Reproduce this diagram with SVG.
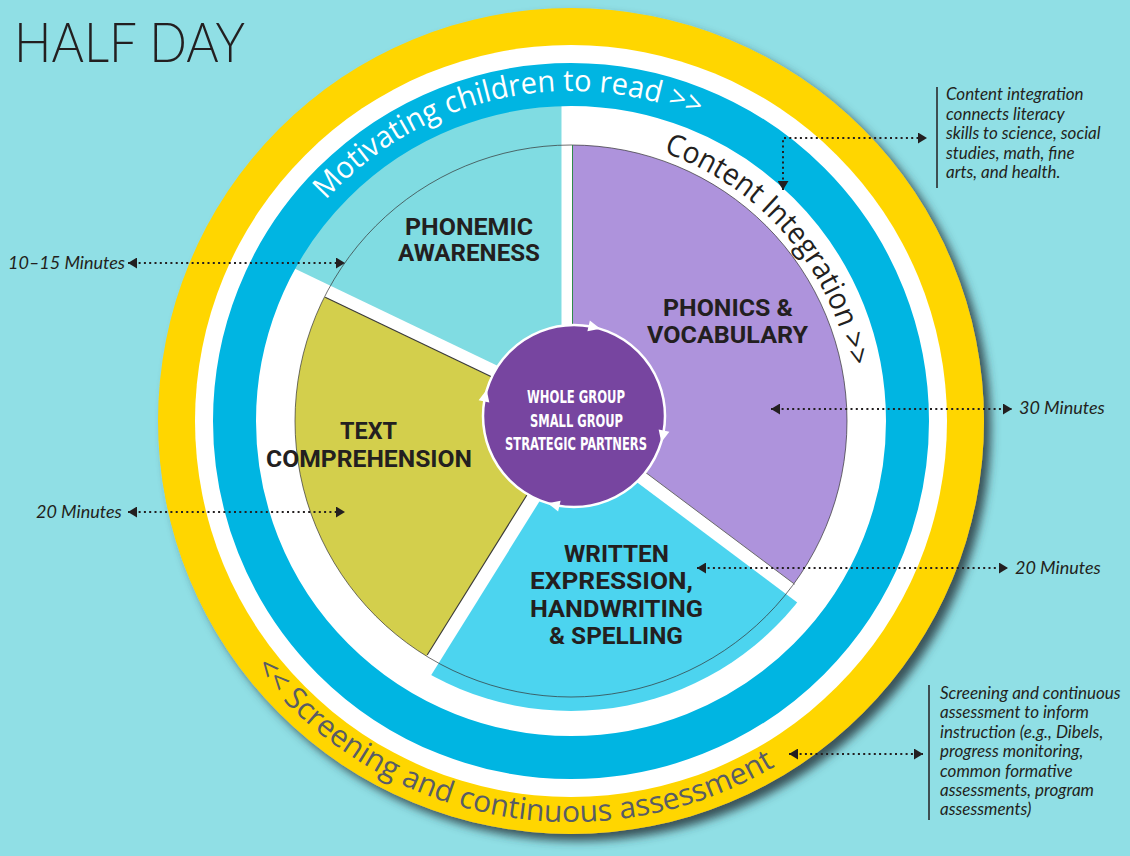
<svg xmlns="http://www.w3.org/2000/svg" width="1130" height="856" viewBox="0 0 1130 856">
<style>
.seg{font-family:Roboto,"Liberation Sans",sans-serif;font-weight:700;font-size:23px;fill:#231f20}
.ctr{font-family:"Liberation Sans Narrow","DejaVu Sans Condensed","Liberation Sans",sans-serif;font-weight:700;font-size:18.5px;fill:#ffffff}
.ann{font-family:Lato,"Liberation Sans",sans-serif;font-style:italic;font-size:17px;fill:#231f20}
.min{font-family:Lato,"Liberation Sans",sans-serif;font-style:italic;font-size:18px;fill:#231f20}
.ring{font-family:"Open Sans","Noto Sans",sans-serif;font-size:30px}
.dot{fill:none;stroke:#231f20;stroke-width:2;stroke-dasharray:2 3.3}
.strip{stroke:#ffffff;fill:none}
.edge{stroke:#3a3a3a;stroke-width:1.1;fill:none}
</style>
<defs>
<filter id="shadow" x="-10%" y="-10%" width="125%" height="125%">
<feDropShadow dx="7" dy="7" stdDeviation="5" flood-color="#2a3a40" flood-opacity="0.85"/>
</filter>
<marker id="ah" viewBox="0 0 9 11" refX="9" refY="5.5" markerWidth="9" markerHeight="11" markerUnits="userSpaceOnUse" orient="auto-start-reverse">
<path d="M0,0 L9,5.5 L0,11 Z" fill="#231f20"/>
</marker>
<clipPath id="cpPurple"><polygon points="567,416 567,-84 1130,-84 1130,738 989.1,738.2 589.1,438.2"/></clipPath>
<clipPath id="cpCyan"><polygon points="589.1,438.2 989.1,738.2 989,900 298,900 298.25,875.25 562.75,450.75"/></clipPath>
<clipPath id="cpOlive"><polygon points="562.75,450.75 298.25,875.25 0,875 0,188 111.4,187.8 562.4,403.8"/></clipPath>
<clipPath id="cpPhon"><polygon points="562.4,403.8 111.4,187.8 111,-84 567,-84 567,416"/></clipPath>
<path id="tri" d="M665,422 L659.5,410 L670.5,410 Z" fill="#ffffff"/>
<path id="pMot" d="M325.8,200.2 A330,330 0 0 1 715.7,124.4"/>
<path id="pCon" d="M663.5,152.5 A284,284 0 0 1 853.9,396.2"/>
<path id="pScr" d="M255,667.9 A401,401 0 0 0 801,749.5"/>
</defs>

<rect x="0" y="0" width="1130" height="856" fill="#90dfe5"/>

<g id="title">
<text x="14" y="62" font-family="Lato,'Liberation Sans',sans-serif" font-weight="300" font-size="56" fill="#231f20" textLength="231" lengthAdjust="spacingAndGlyphs">HALF DAY</text>
</g>

<g id="rings">
<circle cx="571" cy="421" r="413" fill="#ffd600" filter="url(#shadow)"/>
<circle cx="571" cy="421" r="376" fill="#ffffff"/>
</g>

<g id="phonemic-awareness">
<circle cx="571" cy="421" r="322" fill="#80dce2" clip-path="url(#cpPhon)"/>
</g>
<g id="phonics-vocabulary">
<circle cx="571" cy="421" r="276" fill="#ae93dc" clip-path="url(#cpPurple)"/>
</g>
<g id="written-expression">
<circle cx="571" cy="421" r="290" fill="#4cd4ef" clip-path="url(#cpCyan)"/>
</g>
<g id="text-comprehension">
<circle cx="571" cy="421" r="276" fill="#d3cf4c" clip-path="url(#cpOlive)"/>
</g>

<g id="gaps">
<line class="strip" x1="567" y1="420" x2="567" y2="90" stroke-width="11"/>
<line class="strip" x1="562.4" y1="403.8" x2="255.7" y2="256.9" stroke-width="12.6"/>
<line class="strip" x1="562.75" y1="450.75" x2="382.9" y2="739.4" stroke-width="14"/>
<line class="strip" x1="589.1" y1="438.2" x2="861.1" y2="642.2" stroke-width="13"/>
</g>

<g id="blue-ring">
<circle cx="571" cy="421" r="336.5" fill="none" stroke="#00b5e2" stroke-width="43"/>
</g>

<g id="outlines">
<circle cx="571" cy="421" r="276" fill="none" stroke="#333333" stroke-width="1" opacity="0.7"/>
<line class="edge" x1="559.7" y1="409.5" x2="325.2" y2="297.2"/>
<line class="edge" x1="556.8" y1="447" x2="427.2" y2="655"/>
<line x1="593" y1="433" x2="794.6" y2="584.2" stroke="#6a6a6a" stroke-width="1"/>
<line x1="572.5" y1="145" x2="572.5" y2="340" stroke="#2f8a4a" stroke-width="1"/>
</g>

<g id="center">
<circle cx="574" cy="416" r="91" fill="#7745a0" stroke="#ffffff" stroke-width="2.5"/>
<use href="#tri" transform="rotate(-77 574 416)"/>
<use href="#tri" transform="rotate(13 574 416)"/>
<use href="#tri" transform="rotate(103 574 416)"/>
<use href="#tri" transform="rotate(193 574 416)"/>
<text class="ctr" x="527" y="403" textLength="98" lengthAdjust="spacingAndGlyphs">WHOLE GROUP</text>
<text class="ctr" x="530" y="427" textLength="93" lengthAdjust="spacingAndGlyphs">SMALL GROUP</text>
<text class="ctr" x="505" y="450" textLength="142" lengthAdjust="spacingAndGlyphs">STRATEGIC PARTNERS</text>
</g>

<g id="segment-labels">
<text class="seg" x="405" y="235" textLength="128" lengthAdjust="spacingAndGlyphs">PHONEMIC</text>
<text class="seg" x="398" y="261" textLength="142" lengthAdjust="spacingAndGlyphs">AWARENESS</text>
<text class="seg" x="663" y="316" textLength="130" lengthAdjust="spacingAndGlyphs">PHONICS &amp;</text>
<text class="seg" x="647" y="343" textLength="161" lengthAdjust="spacingAndGlyphs">VOCABULARY</text>
<text class="seg" x="340" y="439" textLength="57" lengthAdjust="spacingAndGlyphs">TEXT</text>
<text class="seg" x="266" y="467" textLength="206" lengthAdjust="spacingAndGlyphs">COMPREHENSION</text>
<text class="seg" x="564" y="562" textLength="105" lengthAdjust="spacingAndGlyphs">WRITTEN</text>
<text class="seg" x="530" y="589" textLength="163" lengthAdjust="spacingAndGlyphs">EXPRESSION,</text>
<text class="seg" x="530" y="617" textLength="173" lengthAdjust="spacingAndGlyphs">HANDWRITING</text>
<text class="seg" x="549" y="644" textLength="134" lengthAdjust="spacingAndGlyphs">&amp; SPELLING</text>
</g>

<g id="ring-labels">
<text class="ring" fill="#ffffff"><textPath href="#pMot" textLength="407" lengthAdjust="spacingAndGlyphs">Motivating children to read &gt;&gt;</textPath></text>
<text class="ring" fill="#231f20"><textPath href="#pCon" textLength="297" lengthAdjust="spacingAndGlyphs">Content Integration &gt;&gt;</textPath></text>
<text class="ring" fill="#585c66"><textPath href="#pScr" textLength="578" lengthAdjust="spacingAndGlyphs">&lt;&lt; Screening and continuous assessment</textPath></text>
</g>

<g id="connectors">
<line class="dot" x1="128" y1="263" x2="345" y2="263" marker-start="url(#ah)" marker-end="url(#ah)"/>
<line class="dot" x1="128" y1="512" x2="345" y2="512" marker-start="url(#ah)" marker-end="url(#ah)"/>
<line class="dot" x1="771" y1="409" x2="1012" y2="409" marker-start="url(#ah)" marker-end="url(#ah)"/>
<line class="dot" x1="697" y1="568" x2="1008" y2="568" marker-start="url(#ah)" marker-end="url(#ah)"/>
<polyline class="dot" points="783,190 783,138 927,138" marker-start="url(#ah)" marker-end="url(#ah)"/>
<line class="dot" x1="789" y1="754" x2="923" y2="754" marker-start="url(#ah)" marker-end="url(#ah)"/>
</g>

<g id="time-labels">
<text class="min" x="8" y="269">10–15 Minutes</text>
<text class="min" x="36" y="518">20 Minutes</text>
<text class="min" x="1019" y="414">30 Minutes</text>
<text class="min" x="1015" y="574">20 Minutes</text>
</g>

<g id="note-content">
<line x1="937" y1="87" x2="937" y2="188" stroke="#231f20" stroke-width="1.5"/>
<text class="ann" x="946" y="100">Content integration</text>
<text class="ann" x="946" y="119.5">connects literacy</text>
<text class="ann" x="946" y="139">skills to science, social</text>
<text class="ann" x="946" y="158.5">studies, math, fine</text>
<text class="ann" x="946" y="178">arts, and health.</text>
</g>

<g id="note-screening">
<line x1="929" y1="685" x2="929" y2="820" stroke="#231f20" stroke-width="1.5"/>
<text class="ann" x="940" y="699">Screening and continuous</text>
<text class="ann" x="940" y="718">assessment to inform</text>
<text class="ann" x="940" y="737.5">instruction (e.g., Dibels,</text>
<text class="ann" x="940" y="757">progress monitoring,</text>
<text class="ann" x="940" y="776.5">common formative</text>
<text class="ann" x="940" y="796">assessments, program</text>
<text class="ann" x="940" y="815">assessments)</text>
</g>
</svg>
